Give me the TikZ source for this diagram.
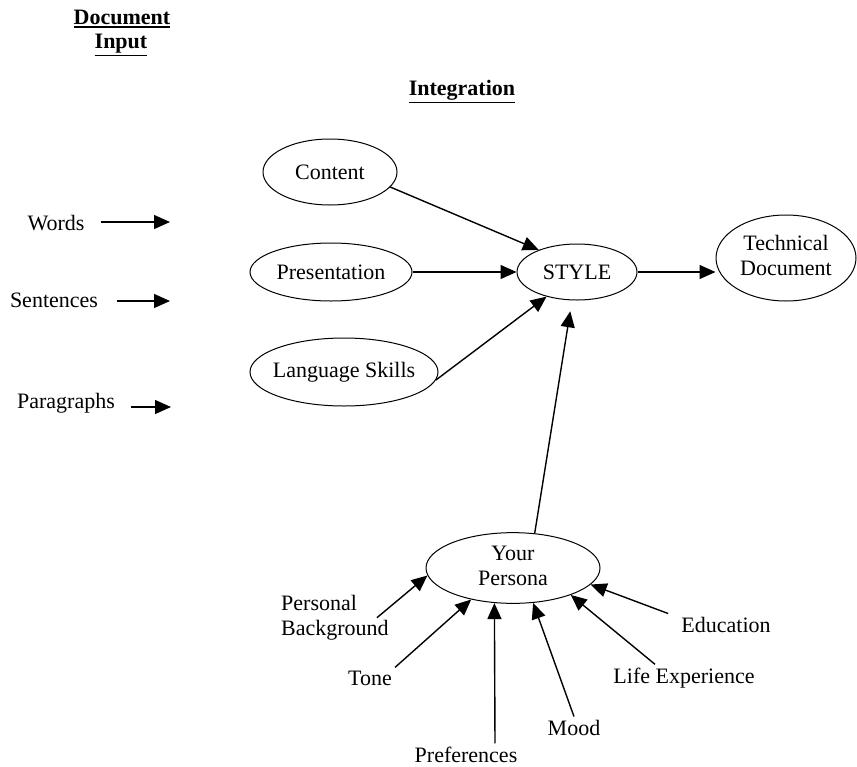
\documentclass[tikz,border=0pt]{standalone}
\usepackage{fontspec}
\setmainfont{Liberation Serif}
\usetikzlibrary{arrows.meta,shapes.geometric}

% heading text with a heavy rule set below its descenders
\newcommand{\thickul}[1]{\leavevmode\setbox0\hbox{#1}\rlap{\copy0}\rule[\dimexpr-\dp0-3.5pt\relax]{\wd0}{1.5pt}}
% zero-width text so the ellipse keeps the size it is given
\newcommand{\ctext}[1]{\makebox[0pt]{#1}}
\newcommand{\ctwo}[2]{\makebox[0pt]{\begin{tabular}{@{}c@{}}#1\\#2\end{tabular}}}

\tikzset{
  lbl/.style={font=\fontsize{22}{25}\selectfont, inner sep=3pt},
  bubble/.style={ellipse, draw, line width=1pt, inner sep=0pt,
                 font=\fontsize{22}{25}\selectfont},
  arr/.style={line width=1.4pt, -{Triangle[length=16pt,width=14pt]}},
  heading/.style={font=\fontsize{22}{24}\selectfont\bfseries, inner sep=0pt, anchor=base},
}

\begin{document}
\begin{tikzpicture}[x=1pt,y=-1pt]
\useasboundingbox (0,0) rectangle (857,766);

% column headings
\node[heading] (hdoc) at (122,24) {\thickul{Document}};
\node[heading] (hinp) at (121,48) {\thickul{Input}};
\node[heading] (hint) at (462,95) {\thickul{Integration}};

% document input
\node[lbl, anchor=base] (words) at (56,230) {Words};
\node[lbl, anchor=base] (sent)  at (54,307) {Sentences};
\node[lbl, anchor=base] (para)  at (66,408) {Paragraphs};
\coordinate (w-end) at (170,222);
\coordinate (s-end) at (170,301);
\coordinate (p-end) at (171,407);
\draw[arr, shorten <=13pt] (words.east |- w-end) -- (w-end);
\draw[arr, shorten <=16pt] (sent.east |- s-end) -- (s-end);
\draw[arr, shorten <=13pt] (para.east |- p-end) -- (p-end);

% integration bubbles
\node[bubble, minimum width=134pt, minimum height=66pt] (content) at (330,172) {\ctext{Content}};
\node[bubble, minimum width=162pt, minimum height=58pt] (pres) at (331,272) {\ctext{Presentation}};
\node[bubble, minimum width=188pt, minimum height=68pt] (lang) at (344,372) {\ctext{Language Skills}};
\node[bubble, minimum width=120pt, minimum height=56pt] (style) at (577,272) {\ctext{STYLE}};
\node[bubble, minimum width=140pt, minimum height=86pt] (tech) at (786,258) {\ctwo{Technical}{Document}};
\node[bubble, minimum width=174pt, minimum height=66pt] (yp) at (513,568) {\ctwo{Your}{Persona}};

\draw[arr] (content.-14) -- (style.150);
\draw[arr] (pres.east) -- (style.west);
\draw[arr] (lang.-5) -- (style.219);
\draw[arr, shorten >=11pt] (yp.58) -- (style.260);
\draw[arr] (style.east) -- (style.east -| tech.west);

% persona factors
\node[lbl, anchor=north west, align=left, inner sep=0pt] (pb) at (281,595) {Personal\\Background};
\node[lbl, anchor=base] (tone) at (370,685) {Tone};
\node[lbl, anchor=base] (pref) at (466,762) {Preferences};
\node[lbl, anchor=base] (mood) at (574,735) {Mood};
\node[lbl, anchor=base] (life) at (684,683) {Life Experience};
\node[lbl, anchor=base] (edu)  at (726,632) {Education};

\draw[arr] ([xshift=-12pt]pb.east) -- (yp.185);
\draw[arr] (tone.north east) -- (yp.217);
\draw[arr] ([xshift=29pt]pref.north) -- (yp.242);
\draw[arr] (mood.north) -- (yp.300);
\draw[arr] ([xshift=-29pt]life.north) -- (yp.335);
\draw[arr] ([xshift=-10pt]edu.north west) -- (yp.348);
\end{tikzpicture}
\end{document}
